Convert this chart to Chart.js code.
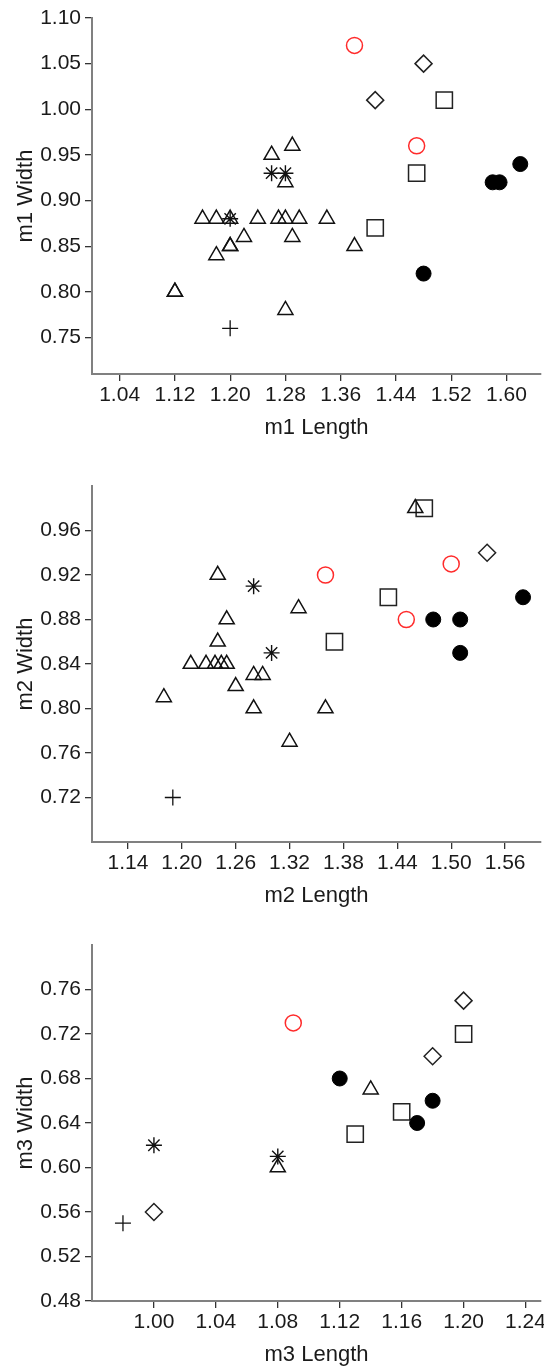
<!DOCTYPE html>
<html><head><meta charset="utf-8">
<script src="https://cdn.jsdelivr.net/npm/chart.js@4"></script>
<style>
html,body{margin:0;padding:0;overflow:hidden;background:#fff;width:544px;height:1366px;position:relative;}
canvas{position:absolute;left:0;}
</style></head><body>
<canvas id="c1" width="544" height="444" style="top:0px"></canvas>
<canvas id="c2" width="544" height="444" style="top:468px"></canvas>
<canvas id="c3" width="544" height="444" style="top:927px"></canvas>
<script>
// ---- Panel m1 ----
const m1Triangle = [[1.29,0.96],[1.26,0.95],[1.28,0.92],[1.16,0.88],[1.18,0.88],[1.20,0.88],[1.24,0.88],[1.27,0.88],[1.28,0.88],[1.30,0.88],[1.34,0.88],[1.22,0.86],[1.29,0.86],[1.18,0.84],[1.20,0.85],[1.20,0.85],[1.38,0.85],[1.12,0.80],[1.12,0.80],[1.28,0.78]];
const m1Star = [[1.26,0.93],[1.28,0.93],[1.20,0.88]];
const m1Filled = [[1.58,0.92],[1.59,0.92],[1.62,0.94],[1.48,0.82]];
const m1Square = [[1.51,1.01],[1.47,0.93],[1.41,0.87]];
const m1Diamond = [[1.48,1.05],[1.41,1.01]];
const m1Red = [[1.38,1.07],[1.47,0.96]];
const m1Plus = [[1.20,0.76]];
const m1XTicks = [1.04,1.12,1.20,1.28,1.36,1.44,1.52,1.60];
const m1YTicks = [0.75,0.80,0.85,0.90,0.95,1.00,1.05,1.10];

// ---- Panel m2 ----
const m2Triangle = [[1.46,0.98],[1.24,0.92],[1.33,0.89],[1.25,0.88],[1.24,0.86],[1.21,0.84],[1.227,0.84],[1.237,0.84],[1.244,0.84],[1.25,0.84],[1.28,0.83],[1.29,0.83],[1.26,0.82],[1.18,0.81],[1.28,0.80],[1.36,0.80],[1.32,0.77]];
const m2Star = [[1.28,0.91],[1.30,0.85]];
const m2Filled = [[1.48,0.88],[1.51,0.88],[1.51,0.85],[1.58,0.90]];
const m2Square = [[1.47,0.98],[1.43,0.90],[1.37,0.86]];
const m2Diamond = [[1.54,0.94]];
const m2Red = [[1.36,0.92],[1.50,0.93],[1.45,0.88]];
const m2Plus = [[1.19,0.72]];
const m2XTicks = [1.14,1.20,1.26,1.32,1.38,1.44,1.50,1.56];
const m2YTicks = [0.72,0.76,0.80,0.84,0.88,0.92,0.96];

// ---- Panel m3 ----
const m3Triangle = [[1.14,0.67],[1.08,0.60]];
const m3Star = [[1.00,0.62],[1.08,0.61]];
const m3Filled = [[1.12,0.68],[1.18,0.66],[1.17,0.64]];
const m3Square = [[1.20,0.72],[1.16,0.65],[1.13,0.63]];
const m3Diamond = [[1.20,0.75],[1.18,0.70],[1.00,0.56]];
const m3Red = [[1.09,0.73]];
const m3Plus = [[0.98,0.55]];
const m3XTicks = [1.00,1.04,1.08,1.12,1.16,1.20,1.24];
const m3YTicks = [0.48,0.52,0.56,0.60,0.64,0.68,0.72,0.76];

const TEXT = '#1a1a1a';
const FONT_T = {family:"'Liberation Sans', Arial, sans-serif", size:22};
const FONT_L = {family:"'Liberation Sans', Arial, sans-serif", size:21};

const styles = [
  {style:'triangle', r:8.7, bg:'rgba(0,0,0,0)', fg:'#111', w:1.5},
  {style:'star', r:8, bg:'rgba(0,0,0,0)', fg:'#111', w:1.4},
  {style:'circle', r:7.5, bg:'#000', fg:'#000', w:1},
  {style:'rect', r:11.5, bg:'rgba(0,0,0,0)', fg:'#222', w:1.5},
  {style:'rectRot', r:8.5, bg:'rgba(0,0,0,0)', fg:'#222', w:1.5},
  {style:'circle', r:8, bg:'rgba(0,0,0,0)', fg:'#ff2b2b', w:1.5},
  {style:'cross', r:8, bg:'rgba(0,0,0,0)', fg:'#111', w:1.3}
];

function makeChart(id, groups, xr, yr, xTicks, yTicks, xTitle, yTitle) {
  const datasets = groups.map((g, i) => ({
    data: g.map(p => ({x:p[0], y:p[1]})),
    pointStyle: styles[i].style,
    pointRadius: styles[i].r,
    pointHoverRadius: styles[i].r,
    pointBackgroundColor: styles[i].bg,
    pointBorderColor: styles[i].fg,
    pointBorderWidth: styles[i].w,
    showLine: false,
    clip: false
  }));
  new Chart(document.getElementById(id), {
    type: 'scatter',
    data: {datasets},
    options: {
      responsive: false, animation: false, events: [],
      layout: {autoPadding:false, padding: {top:18, right:3, left:0, bottom:0}},
      plugins: {legend:{display:false}, tooltip:{enabled:false}},
      scales: {
        x: {
          type:'linear', min:xr[0], max:xr[1],
          afterBuildTicks: s => { s.ticks = xTicks.map(v => ({value:v})); },
          afterFit: s => { s.height = 70; s.paddingLeft = 0; s.paddingRight = 0; },
          ticks: {callback: v => Number(v).toFixed(2), font: FONT_L, color: TEXT, padding: 2, autoSkip:false, maxRotation:0},
          grid: {drawOnChartArea:false, tickLength:7, color:'#333', lineWidth:1.3},
          border: {color:'#808080', width:2},
          title: {display:true, text:xTitle, font:FONT_T, color:TEXT, padding:{top:0, bottom:3}}
        },
        y: {
          type:'linear', min:yr[0], max:yr[1],
          afterBuildTicks: s => { s.ticks = yTicks.map(v => ({value:v})); },
          afterFit: s => { s.width = 92; s.paddingTop = 0; s.paddingBottom = 0; },
          ticks: {callback: v => Number(v).toFixed(2), font: FONT_L, color: TEXT, padding: 4, autoSkip:false},
          grid: {drawOnChartArea:false, tickLength:7, color:'#333', lineWidth:1.3},
          border: {color:'#808080', width:2},
          title: {display:true, text:yTitle, font:FONT_T, color:TEXT, padding:{top:13, bottom:0}}
        }
      }
    }
  });
}

makeChart('c1', [m1Triangle,m1Star,m1Filled,m1Square,m1Diamond,m1Red,m1Plus], [1.00,1.65], [0.71,1.10], m1XTicks, m1YTicks, 'm1 Length', 'm1 Width');
makeChart('c2', [m2Triangle,m2Star,m2Filled,m2Square,m2Diamond,m2Red,m2Plus], [1.10,1.60], [0.68,1.00], m2XTicks, m2YTicks, 'm2 Length', 'm2 Width');
makeChart('c3', [m3Triangle,m3Star,m3Filled,m3Square,m3Diamond,m3Red,m3Plus], [0.96,1.25], [0.48,0.80], m3XTicks, m3YTicks, 'm3 Length', 'm3 Width');
</script>
</body></html>
